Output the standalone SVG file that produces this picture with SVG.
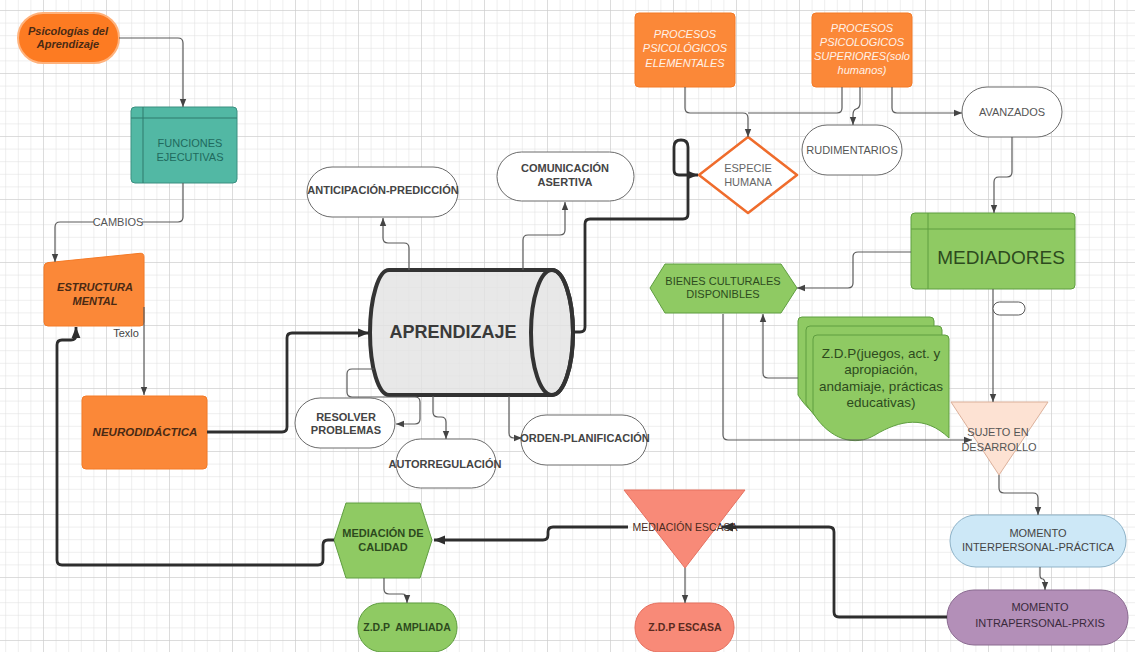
<svg xmlns="http://www.w3.org/2000/svg" xmlns:xlink="http://www.w3.org/1999/xlink" width="1135" height="652" viewBox="0 0 1135 652">
<style>
.f{font-family:'Liberation Sans',Arial,sans-serif;text-anchor:middle}
.s11{font-size:11px}
.b{font-weight:bold}
.i{font-style:italic}
.ln{fill:none;stroke:#5a5a5a;stroke-width:1.2;marker-end:url(#a)}
.lk{fill:none;stroke:#2e2e2e;stroke-width:2.8;marker-end:url(#b)}
.pill{fill:#fff;stroke:#6a6a6a;stroke-width:1}
.or{fill:#fb8838;stroke:#f47a26;stroke-width:1}
.gr{fill:#8fca63;stroke:#5f9e40;stroke-width:1}
.dk{fill:#444}
.gt{fill:#2d4a1e}
.bt{fill:#4a2a14}
.wt{fill:#fff2e8}
</style>
<defs>
<pattern id="gm" x="43" y="10" width="12.6" height="12.6" patternUnits="userSpaceOnUse">
<path d="M0,0 H12.6 M0,0 V12.6" stroke="#dedede" stroke-width="1" fill="none"/>
</pattern>
<pattern id="gM" x="43" y="10" width="63" height="63" patternUnits="userSpaceOnUse">
<path d="M0,0 H63 M0,0 V63" stroke="#c9c9c9" stroke-width="1" fill="none"/>
</pattern>
<marker id="a" viewBox="0 0 10 10" refX="10" refY="5" markerWidth="8" markerHeight="8" markerUnits="userSpaceOnUse" orient="auto"><path d="M0,1 L10,5 L0,9 z" fill="#444"/></marker>
<marker id="b" viewBox="0 0 10 10" refX="10" refY="5" markerWidth="11" markerHeight="11" markerUnits="userSpaceOnUse" orient="auto"><path d="M0,1 L10,5 L0,9 z" fill="#2e2e2e"/></marker>
<path id="doc" d="M4,0 H132 Q136,0 136,4 V103 C112,80 87,85 62,100 C42,112 17,105 0,78 V4 Q0,0 4,0 Z"/>
</defs>
<rect width="1135" height="652" fill="#fff"/>
<rect width="1135" height="652" fill="url(#gm)"/>
<rect width="1135" height="652" fill="url(#gM)"/>

<g id="psicologias">
<rect x="18" y="13" width="101" height="50" rx="25" fill="#fd7b22" stroke="#ffb27c" stroke-width="2"/>
<text class="f s11 b i bt" x="68" y="35">Psicologías del</text>
<text class="f s11 b i bt" x="68" y="48">Aprendizaje</text>
</g>
<g id="funciones">
<rect x="131" y="107" width="106" height="76" rx="4" fill="#52b8a4" stroke="#3a8f80"/>
<path d="M143,107 V183 M131,118 H237" stroke="#2f7a6c" fill="none"/>
<text class="f s11" fill="#1f6a5e" x="190" y="147">FUNCIONES</text>
<text class="f s11" fill="#1f6a5e" x="190" y="161">EJECUTIVAS</text>
</g>
<g id="estructura">
<path class="or" d="M44,267 Q44,263 48,262.6 L140,253.3 Q144,253 144,257 L144,322 Q144,326 140,326 L48,326 Q44,326 44,322 Z"/>
<text class="f s11 b i bt" x="95" y="291">ESTRUCTURA</text>
<text class="f s11 b i bt" x="95" y="305">MENTAL</text>
</g>
<g id="neurodidactica">
<rect class="or" x="82" y="396" width="125" height="73" rx="4"/>
<text class="f b i bt" font-size="11.5" x="145" y="436">NEURODIDÁCTICA</text>
</g>
<g id="aprendizaje">
<path d="M389,270 H552 A21,62.5 0 0 1 552,395 H389 A19,62.5 0 0 1 389,270 Z" fill="#e2e2e2" fill-opacity="0.8" stroke="#333" stroke-width="4"/>
<ellipse cx="552" cy="332.5" rx="21" ry="62.5" fill="none" stroke="#333" stroke-width="4"/>
<text class="f b" font-size="18" fill="#3a3a3a" x="453" y="338">APRENDIZAJE</text>
</g>
<g id="anticipacion">
<rect class="pill" x="307" y="167" width="151" height="50" rx="25"/>
<text class="f s11 b dk" x="383" y="194">ANTICIPACIÓN-PREDICCIÓN</text>
</g>
<g id="comunicacion">
<rect class="pill" x="497" y="152" width="137" height="49" rx="24.5"/>
<text class="f s11 b dk" x="565" y="172">COMUNICACIÓN</text>
<text class="f s11 b dk" x="565" y="186">ASERTIVA</text>
</g>
<g id="resolver">
<rect class="pill" x="295" y="398" width="100" height="50" rx="25"/>
<text class="f s11 b dk" x="346" y="421">RESOLVER</text>
<text class="f s11 b dk" x="346" y="434">PROBLEMAS</text>
</g>
<g id="autorregulacion">
<rect class="pill" x="396" y="439" width="100" height="49" rx="24.5"/>
<text class="f s11 b dk" x="445" y="468">AUTORREGULACIÓN</text>
</g>
<g id="orden">
<rect class="pill" x="521" y="415" width="126" height="50" rx="25"/>
<text class="f s11 b dk" x="585" y="442">ORDEN-PLANIFICACIÓN</text>
</g>
<g id="ppe">
<rect class="or" x="635" y="13" width="100" height="74" rx="4"/>
<text class="f s11 i wt" x="685" y="38">PROCESOS</text>
<text class="f s11 i wt" x="685" y="52">PSICOLÓGICOS</text>
<text class="f s11 i wt" x="685" y="67">ELEMENTALES</text>
</g>
<g id="pps">
<rect class="or" x="812" y="13" width="100" height="74" rx="4"/>
<text class="f s11 i wt" x="862" y="32">PROCESOS</text>
<text class="f s11 i wt" x="862" y="46">PSICOLOGICOS</text>
<text class="f s11 i wt" x="862" y="60">SUPERIORES(solo</text>
<text class="f s11 i wt" x="862" y="74">humanos)</text>
</g>
<g id="especie">
<polygon points="748,137 797,175 748,213 699,175" fill="#fff" stroke="#ef6c2c" stroke-width="2.5" stroke-linejoin="round"/>
<text class="f s11" fill="#666" x="748" y="172">ESPECIE</text>
<text class="f s11" fill="#666" x="748" y="186">HUMANA</text>
</g>
<g id="rudimentarios">
<rect class="pill" x="802" y="125" width="100" height="50" rx="25"/>
<text class="f s11" fill="#555" x="852" y="154">RUDIMENTARIOS</text>
</g>
<g id="avanzados">
<rect class="pill" x="962" y="87" width="100" height="50" rx="25"/>
<text class="f s11" fill="#555" x="1012" y="116">AVANZADOS</text>
</g>
<g id="mediadores">
<rect class="gr" x="911" y="213" width="164" height="76" rx="4"/>
<path d="M928,213 V289 M911,229 H1075" stroke="#5f9e40" fill="none"/>
<text class="f" font-size="19" fill="#2d4a1e" x="1001" y="264">MEDIADORES</text>
</g>
<g id="bienes">
<polygon class="gr" points="650,288 665,264 781,264 797,288 781,313 665,313"/>
<text class="f s11 gt" x="723" y="285">BIENES CULTURALES</text>
<text class="f s11 gt" x="723" y="298">DISPONIBLES</text>
</g>
<g id="zdp">
<use xlink:href="#doc" x="798" y="317" class="gr"/>
<use xlink:href="#doc" x="806" y="326" class="gr"/>
<use xlink:href="#doc" x="813" y="335" class="gr"/>
<text class="f gt" font-size="13.5" x="881" y="358">Z.D.P(juegos, act. y</text>
<text class="f gt" font-size="13.5" x="881" y="374">apropiación,</text>
<text class="f gt" font-size="13.5" x="881" y="391">andamiaje, prácticas</text>
<text class="f gt" font-size="13.5" x="881" y="407">educativas)</text>
</g>
<g id="sujeto">
<polygon points="951,402 1048,402 999,475" fill="#fde2d3" stroke="#dcb09a" stroke-linejoin="round"/>
<text class="f s11" fill="#555" x="998" y="436">SUJETO EN</text>
<text class="f s11" fill="#555" x="999" y="451">DESARROLLO</text>
</g>
<g id="interpersonal">
<rect x="950" y="515" width="176" height="52" rx="26" fill="#cde8f7" stroke="#8fb3c8"/>
<text class="f s11" fill="#444" x="1038" y="537">MOMENTO</text>
<text class="f s11" fill="#444" x="1038" y="551">INTERPERSONAL-PRÁCTICA</text>
</g>
<g id="intrapersonal">
<rect x="947" y="590" width="181" height="55" rx="27" fill="#b38fb8" stroke="#8a6a90"/>
<text class="f s11" fill="#3a2a3c" x="1040" y="611">MOMENTO</text>
<text class="f s11" fill="#3a2a3c" x="1040" y="627">INTRAPERSONAL-PRXIS</text>
</g>
<g id="mediacion-escasa">
<polygon points="624,490 745,490 685,568" fill="#f88a78" stroke="#e5705f" stroke-linejoin="round"/>
<text class="f" font-size="10.5" fill="#4a2a20" x="685" y="531">MEDIACIÓN ESCASA</text>
</g>
<g id="zdp-escasa">
<rect x="635" y="603" width="99" height="49" rx="24" fill="#f88a78" stroke="#e5705f"/>
<text class="f b" font-size="10.5" fill="#5a2a20" x="685" y="631">Z.D.P ESCASA</text>
</g>
<g id="mediacion-calidad">
<polygon class="gr" points="334,540 346,503 420,503 432,540 420,578 346,578"/>
<text class="f s11 b gt" x="383" y="537">MEDIACIÓN DE</text>
<text class="f s11 b gt" x="383" y="551">CALIDAD</text>
</g>
<g id="zdp-ampliada">
<rect class="gr" x="358" y="603" width="99" height="49" rx="24"/>
<text class="f b gt" font-size="10.5" x="407" y="631" style="white-space:pre">Z.D.P  AMPLIADA</text>
</g>

<g id="connectors">
<path class="ln" d="M119,38 H178 Q183,38 183,43 V107"/>
<path class="ln" d="M183,183 V217 Q183,222 178,222 H60 Q55,222 55,227 V262"/>
<rect x="94" y="215" width="48" height="13" fill="#fff"/>
<text class="f s11" fill="#555" x="118" y="226">CAMBIOS</text>
<path class="ln" d="M144,307 V395"/>
<text class="f s11" fill="#444" x="126" y="337">Texlo</text>
<path class="lk" d="M207,432 H282 Q287,432 287,427 V338 Q287,333 292,333 H369"/>
<path class="lk" d="M573,332 H580 Q585,332 585,327 V224 Q585,219 590,219 H683 Q688,219 688,214 V147 Q688,140 681,140 Q674,140 674,147 V170 Q674,175 679,175 H698"/>
<path class="ln" d="M409,270 V248 Q409,243 404,243 H388 Q383,243 383,238 V218"/>
<path class="ln" d="M523,270 V240 Q523,235 528,235 H560 Q565,235 565,230 V202"/>
<path class="ln" d="M374,369 H352 Q347,369 347,374 V392 Q347,397 352,397 H415 Q420,397 420,402 V419 Q420,424 415,424 H396"/>
<path class="ln" d="M433,396 V412 Q433,417 438,417 H441 Q446,417 446,422 V439"/>
<path class="ln" d="M509,396 V433 Q509,438 514,438 H522"/>
<path class="ln" d="M685,87 V108 Q685,113 690,113 H743 Q748,113 748,118 V137"/>
<path fill="none" stroke="#5a5a5a" stroke-width="1.2" d="M842,87 V108 Q842,113 837,113 H748"/>
<path class="ln" d="M860,87 V103 Q860,108 856,109 Q853,110 853,115 V125"/>
<path class="ln" d="M892,87 V108 Q892,113 897,113 H962"/>
<path class="ln" d="M1012,137 V172 Q1012,177 1007,177 H999 Q994,177 994,182 V213"/>
<path class="ln" d="M911,252 H858 Q853,252 853,257 V283 Q853,288 848,288 H797"/>
<path class="ln" d="M993,289 V402"/>
<rect x="993" y="302" width="32" height="13" rx="6.5" fill="#fff" stroke="#5a5a5a" stroke-width="1"/>
<path class="ln" d="M798,378 H768 Q763,378 763,373 V314"/>
<path class="ln" d="M723,314 V435 Q723,440 728,440 H972"/>
<path class="ln" d="M999,475 V488 Q999,493 1004,493 H1033 Q1038,493 1038,498 V515"/>
<path class="ln" d="M1040,567 V575 Q1040,579 1043,579 Q1045,580 1045,584 V590"/>
<path class="lk" d="M947,617 H839 Q834,617 834,612 V532 Q834,527 829,527 H722"/>
<path class="lk" d="M628,527 H553 Q548,527 548,532 V535 Q548,540 543,540 H434"/>
<path class="ln" d="M685,568 V603"/>
<path class="lk" d="M334,540 H328 Q323,540 323,545 V560 Q323,565 318,565 H62 Q57,565 57,560 V345 Q57,340 62,340 H71 Q76,340 76,335 V327"/>
<path class="ln" d="M384,578 V589 Q384,594 389,594 H402 Q407,594 407,599 V603"/>
</g>
</svg>
